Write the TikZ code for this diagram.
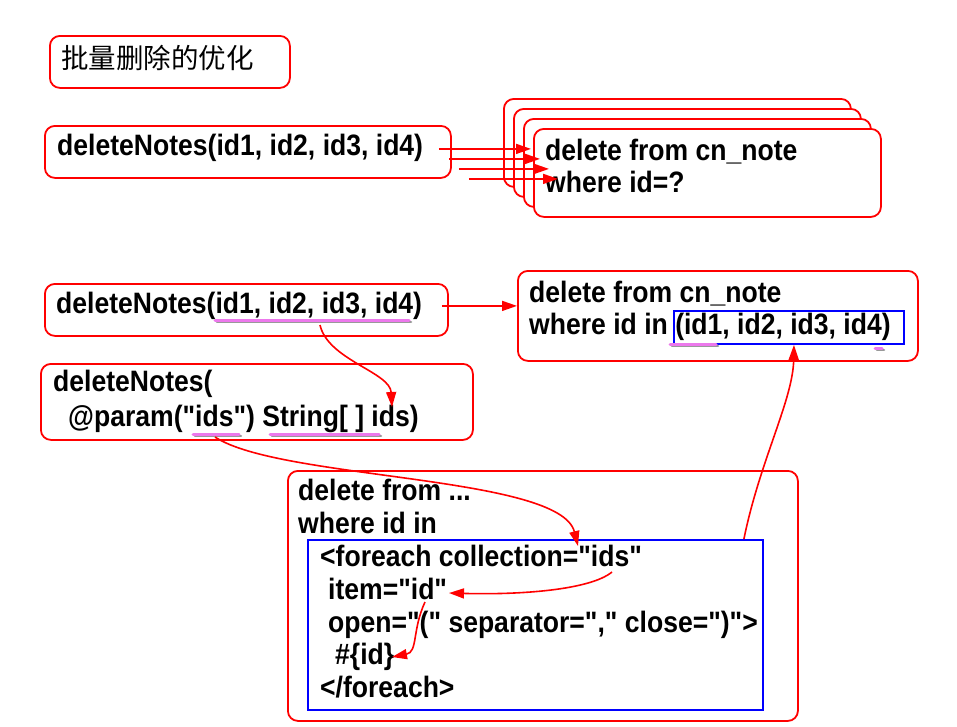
\documentclass[tikz,border=0pt]{standalone}
\usepackage{fontspec}
\setmainfont{Liberation Sans}[Ligatures=TeXOff]
\newfontfamily\codefont{Liberation Sans}[Ligatures=TeXOff,FakeStretch=0.9]
\newfontfamily\cjk{Noto Sans CJK SC}
\usetikzlibrary{arrows.meta,calc}
\definecolor{hlc}{RGB}{236,120,236}
\begin{document}
\begin{tikzpicture}[x=1pt,y=-1pt,
  rbox/.style={draw=red, line width=1.8pt, rounded corners=10pt, fill=white, inner sep=0pt},
  bbox/.style={draw=blue, line width=1.9pt, inner sep=0pt},
  txt/.style={anchor=base west, inner sep=0pt, font=\codefont\fontsize{29.5}{32}\selectfont\bfseries},
  arr/.style={draw=red, line width=1.6pt, -{Triangle[length=15pt,width=10pt]}},
  hl/.style={draw=hlc, line width=3pt, line cap=round},
  hlsh/.style={draw=black!40, line width=2.5pt, line cap=round}]
\useasboundingbox (0,0) rectangle (957,726);

% title
\node[rbox, anchor=north west, minimum width=240pt, minimum height=52pt] (T) at (49,35) {};
\node[anchor=base west, inner sep=0pt, font=\cjk\fontsize{27.5}{30}\selectfont] (Tt) at (61,68) {批量删除的优化};

% row 1
\node[rbox, anchor=north west, minimum width=406pt, minimum height=52pt] (A) at (44,125) {};
\node[txt] (At) at (57,155) {deleteNotes(id1, id2, id3, id4)};
\foreach \i in {0,1,2,3}{
  \node[rbox, anchor=north west, minimum width=347pt, minimum height=88pt] (S\i) at ({503+10*\i},{98+10*\i}) {};
}
\node[txt] (St1) at (545,160) {delete from cn\_note};
\node[txt] (St2) at (545,192) {where id=?};
\foreach \i in {0,1,2,3}{
  \coordinate (as\i) at ($(A.east)+({-13+10*\i},{-3+10*\i})$);
  \coordinate (ae\i) at ($(S\i.west)+({28-\i},0)$);
  \draw[arr] (as\i) -- (as\i -| ae\i);
}

% row 2
\node[rbox, anchor=north west, minimum width=403pt, minimum height=52pt] (B) at (44,283) {};
\node[txt] (Bt) at (56,313) {deleteNotes(id1, id2, id3, id4)};
\node[rbox, anchor=north west, minimum width=400pt, minimum height=90pt] (C) at (517,270) {};
\node[txt] (Ct1) at (529,302) {delete from cn\_note};
\node[txt] (Ct2) at (529,334) {where id in (id1, id2, id3, id4)};
\node[bbox, anchor=north west, minimum width=230pt, minimum height=33pt] (CB) at (673,310) {};
\coordinate (bs) at ($(B.east)+(-7,-4)$);
\draw[arr] (bs) -- (bs -| C.west);

% highlights
\draw[hlsh] (217,322) -- (411,322);
\draw[hl] (215,320) -- (409,320);
\draw[hlsh] (672,346) -- (718,346);
\draw[hl] (670,344) -- (716,344);
\draw[hlsh] (877,350) -- (884,350);
\draw[hl] (875,348) -- (882,348);

% row 3
\node[rbox, anchor=north west, minimum width=432pt, minimum height=76pt] (D) at (40,363) {};
\node[txt] (Dt1) at (53,391) {deleteNotes(};
\node[txt] (Dt2) at (68,426) {@param("ids") String[ ] ids)};
\draw[hlsh] (195,436) -- (241,436);
\draw[hl] (193,434) -- (239,434);
\draw[hlsh] (272,436) -- (381,436);
\draw[hl] (270,434) -- (379,434);

% row 4
\node[rbox, anchor=north west, minimum width=510pt, minimum height=250pt] (E) at (287,470) {};
\node[txt] (Et1) at (298,500) {delete from ...};
\node[txt] (Et2) at (298,533) {where id in};
\node[bbox, anchor=north west, minimum width=455pt, minimum height=170pt] (EB) at (307,539) {};
\node[txt] (F1) at (320,566) {<foreach collection="ids"};
\node[txt] (F2) at (328,599) {item="id"};
\node[txt] (F3) at (328,632) {open="(" separator="," close=")">};
\node[txt] (F4) at (335,664) {\#\{id\}};
\node[txt] (F5) at (320,697) {</foreach>};

% curved arrows
\coordinate (b1) at (320,325);
\coordinate (d1) at (392,407);
\draw[arr] (b1) .. controls (328,360) and (390,372) .. (d1);
\coordinate (d2) at (215,437);
\coordinate (e1) at (578,546);
\draw[arr] (d2) .. controls (280,480) and (560,475) .. (e1);
\coordinate (e2) at (612,572);
\coordinate (e3) at (449,593);
\draw[arr] (e2) .. controls (590,590) and (520,595) .. (e3);
\coordinate (e4) at (425,602);
\coordinate (e5) at (392,657);
\draw[arr] (e4) .. controls (412,630) and (418,652) .. (e5);
\coordinate (ebs) at ($(EB.north east)+(-20,0)$);
\coordinate (cbe) at ($(CB.south)+(5,0)$);
\draw[arr] (ebs) .. controls (760,460) and (793,400) .. (cbe);
\end{tikzpicture}
\end{document}
